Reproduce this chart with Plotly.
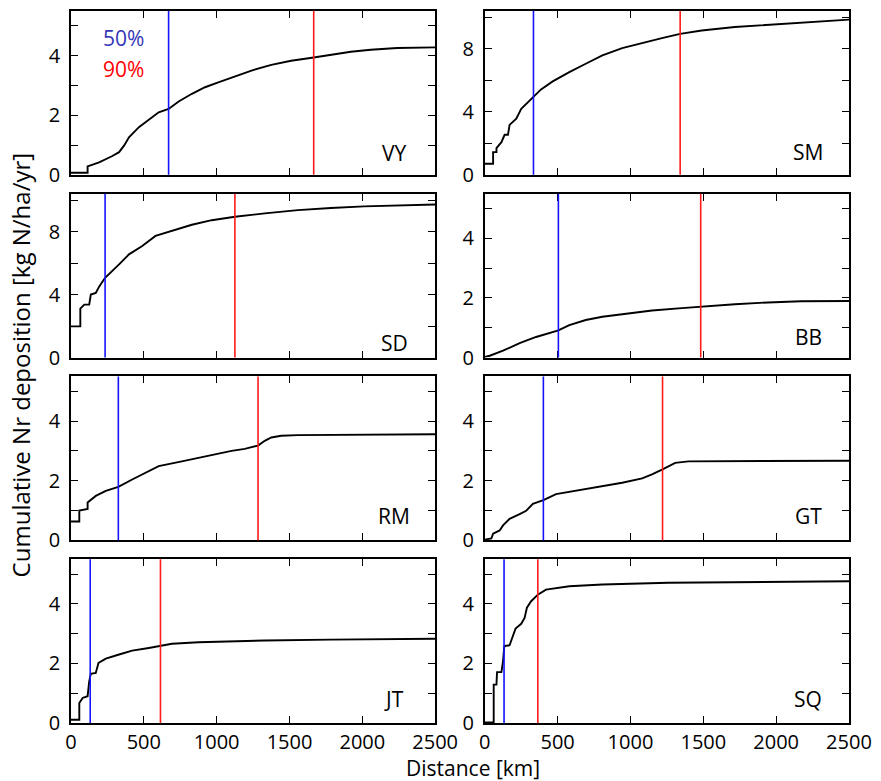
import plotly.graph_objects as go
from plotly.subplots import make_subplots

# ---- data ----
sites = ["VY", "SM", "SD", "BB", "RM", "GT", "JT", "SQ"]

vy_x = [0, 114, 114, 193, 284, 330, 364, 386, 398, 466, 534, 602, 670, 739, 830, 920, 1011, 1102, 1239, 1375, 1511, 1666, 1784, 1921, 2057, 2239, 2500]
vy_y = [0.07, 0.07, 0.28, 0.42, 0.63, 0.76, 0.98, 1.15, 1.26, 1.60, 1.85, 2.10, 2.21, 2.46, 2.72, 2.94, 3.10, 3.27, 3.50, 3.69, 3.83, 3.94, 4.03, 4.13, 4.20, 4.26, 4.28]

sm_x = [0, 57, 57, 80, 80, 91, 114, 136, 159, 170, 216, 250, 284, 334, 386, 466, 580, 693, 807, 943, 1080, 1216, 1341, 1489, 1716, 1943, 2170, 2500]
sm_y = [0.70, 0.70, 1.44, 1.44, 1.70, 1.82, 2.07, 2.54, 2.54, 3.17, 3.56, 4.19, 4.50, 4.97, 5.42, 5.93, 6.52, 7.05, 7.58, 8.04, 8.38, 8.68, 8.95, 9.16, 9.38, 9.52, 9.65, 9.85]

sd_x = [0, 64, 64, 91, 125, 136, 170, 193, 234, 273, 330, 398, 489, 580, 693, 830, 966, 1125, 1330, 1557, 1784, 2011, 2500]
sd_y = [1.98, 1.98, 3.10, 3.36, 3.36, 4.00, 4.10, 4.50, 5.06, 5.38, 5.91, 6.55, 7.08, 7.72, 8.04, 8.43, 8.72, 8.94, 9.15, 9.36, 9.49, 9.60, 9.72]

bb_x = [0, 34, 125, 239, 352, 443, 505, 580, 693, 807, 943, 1148, 1352, 1482, 1716, 1943, 2170, 2500]
bb_y = [0.02, 0.06, 0.23, 0.48, 0.69, 0.82, 0.91, 1.09, 1.26, 1.37, 1.46, 1.58, 1.66, 1.71, 1.79, 1.85, 1.89, 1.90]

rm_x = [0, 57, 57, 114, 114, 170, 239, 325, 420, 511, 602, 761, 920, 1102, 1193, 1284, 1330, 1375, 1443, 1557, 2500]
rm_y = [0.63, 0.63, 1.00, 1.05, 1.27, 1.49, 1.66, 1.79, 2.04, 2.27, 2.49, 2.65, 2.82, 3.00, 3.07, 3.18, 3.34, 3.45, 3.51, 3.53, 3.56]

gt_x = [0, 45, 57, 102, 125, 170, 239, 284, 330, 402, 489, 625, 807, 943, 1080, 1148, 1220, 1307, 1398, 2500]
gt_y = [0.02, 0.06, 0.22, 0.33, 0.50, 0.72, 0.88, 0.99, 1.22, 1.35, 1.55, 1.66, 1.82, 1.93, 2.08, 2.21, 2.38, 2.60, 2.65, 2.67]

jt_x = [0, 57, 57, 80, 114, 125, 136, 170, 189, 239, 330, 420, 534, 614, 693, 875, 1330, 1784, 2500]
jt_y = [0.11, 0.11, 0.67, 0.84, 0.90, 1.40, 1.65, 1.68, 2.02, 2.16, 2.30, 2.43, 2.52, 2.58, 2.66, 2.71, 2.77, 2.80, 2.83]

sq_x = [0, 61, 61, 80, 84, 114, 125, 134, 170, 193, 211, 250, 273, 289, 318, 364, 420, 580, 807, 1261, 2500]
sq_y = [0.02, 0.02, 1.29, 1.29, 1.71, 1.71, 2.07, 2.58, 2.61, 2.91, 3.17, 3.33, 3.53, 3.87, 4.09, 4.31, 4.48, 4.59, 4.65, 4.71, 4.76]

curves_x = [vy_x, sm_x, sd_x, bb_x, rm_x, gt_x, jt_x, sq_x]
curves_y = [vy_y, sm_y, sd_y, bb_y, rm_y, gt_y, jt_y, sq_y]

dist50 = [670, 334, 234, 505, 325, 402, 132, 132]
dist90 = [1666, 1341, 1125, 1482, 1284, 1220, 614, 364]

y_max = [5.5, 10.4, 10.4, 5.5, 5.5, 5.5, 5.5, 5.5]
x_ticks = [0, 500, 1000, 1500, 2000, 2500]
label_ypos = [0.134, 0.138, 0.09, 0.126, 0.15, 0.15, 0.144, 0.144]

FONT = "Open Sans"
W, H = 881, 781
ML, MR, MT, MB = 71, 26, 9, 58
PW, PH = W - ML - MR, H - MT - MB

fig = make_subplots(rows=4, cols=2,
                    horizontal_spacing=50 / PW,
                    vertical_spacing=19 / PH)

for i, name in enumerate(sites):
    r, c = i // 2 + 1, i % 2 + 1
    fig.add_trace(go.Scatter(x=curves_x[i], y=curves_y[i], mode="lines",
                             line=dict(color="black", width=1.9),
                             showlegend=False, hoverinfo="skip"),
                  row=r, col=c)
    fig.add_vline(x=dist50[i], line=dict(color="#1414ff", width=1.6), row=r, col=c)
    fig.add_vline(x=dist90[i], line=dict(color="#ff1a1a", width=1.6), row=r, col=c)

    if y_max[i] > 6:
        yv = [0, 2, 4, 6, 8, 10]
        yt = ["0", "", "4", "", "8", ""]
    else:
        yv = [0, 1, 2, 3, 4, 5]
        yt = ["0", "", "2", "", "4", ""]
    fig.update_yaxes(range=[0, y_max[i]], tickvals=yv, ticktext=yt,
                     ticks="inside", ticklen=7, tickwidth=1.3, tickcolor="black",
                     showline=True, linecolor="black", linewidth=1.6, mirror="ticks",
                     showgrid=False, zeroline=False, ticklabelstandoff=5,
                     tickfont=dict(family=FONT, size=20, color="black"),
                     row=r, col=c)
    fig.update_xaxes(range=[0, 2500], tickvals=x_ticks,
                     ticktext=[str(v) for v in x_ticks],
                     showticklabels=(r == 4),
                     ticks="inside", ticklen=7, tickwidth=1.3, tickcolor="black",
                     showline=True, linecolor="black", linewidth=1.6, mirror="ticks",
                     showgrid=False, zeroline=False,
                     tickfont=dict(family=FONT, size=20, color="black"),
                     row=r, col=c)

    idx = "" if i == 0 else str(i + 1)
    fig.add_annotation(text=name, xref=f"x{idx} domain", yref=f"y{idx} domain",
                       x=0.888, y=label_ypos[i], xanchor="center", yanchor="middle",
                       showarrow=False, font=dict(family=FONT, size=21, color="black"))

fig.add_annotation(text="50%", xref="x domain", yref="y domain", x=0.082, y=0.835,
                   xanchor="left", yanchor="middle", showarrow=False,
                   font=dict(family=FONT, size=21, color="#3535b8"))
fig.add_annotation(text="90%", xref="x domain", yref="y domain", x=0.082, y=0.646,
                   xanchor="left", yanchor="middle", showarrow=False,
                   font=dict(family=FONT, size=21, color="#ff0000"))

fig.add_annotation(text="Cumulative Nr deposition [kg N/ha/yr]", xref="paper", yref="paper",
                   x=-(ML - 20) / PW, y=1 - (364 - MT) / PH, textangle=-90,
                   xanchor="center", yanchor="middle", showarrow=False,
                   font=dict(family=FONT, size=24, color="black"))
fig.add_annotation(text="Distance [km]", xref="paper", yref="paper",
                   x=(476 - ML) / PW, y=-(768 - (H - MB)) / PH,
                   xanchor="center", yanchor="middle", showarrow=False,
                   font=dict(family=FONT, size=21, color="black"))

fig.update_layout(width=W, height=H, margin=dict(l=ML, r=MR, t=MT, b=MB),
                  plot_bgcolor="white", paper_bgcolor="white",
                  font=dict(family=FONT, size=20, color="black"))

fig.write_html("out.html", config={"displayModeBar": False},
               post_script="document.body.style.margin='0';document.body.style.overflow='hidden';")
